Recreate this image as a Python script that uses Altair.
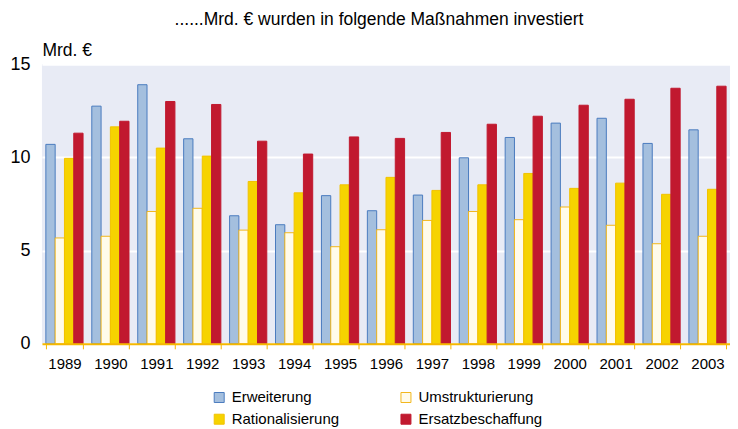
import altair as alt
import pandas as pd

years = ["1989", "1990", "1991", "1992", "1993", "1994", "1995", "1996",
         "1997", "1998", "1999", "2000", "2001", "2002", "2003"]
series = ["Erweiterung", "Umstrukturierung", "Rationalisierung", "Ersatzbeschaffung"]
legend_order = ["Erweiterung", "Rationalisierung", "Umstrukturierung", "Ersatzbeschaffung"]
erweiterung = [10.7, 12.75, 13.9, 11.0, 6.87, 6.39, 7.95, 7.14, 7.98, 9.98, 11.07, 11.84, 12.1, 10.75, 11.48]
umstrukturierung = [5.68, 5.77, 7.1, 7.27, 6.1, 5.96, 5.21, 6.12, 6.62, 7.1, 6.66, 7.34, 6.36, 5.37, 5.77]
rationalisierung = [9.95, 11.64, 10.5, 10.07, 8.71, 8.1, 8.53, 8.93, 8.23, 8.53, 9.14, 8.34, 8.62, 8.02, 8.29]
ersatz = [11.3, 11.94, 13.0, 12.84, 10.87, 10.18, 11.1, 11.02, 11.34, 11.78, 12.21, 12.8, 13.12, 13.71, 13.82]

fills = ["#A4BFDE", "#FFFBEA", "#F6D300", "#C1192F"]
strokes = ["#4A7BBF", "#F2B71B", "#F2C200", "#C1192F"]

rows = []
for name, vals in zip(series, [erweiterung, umstrukturierung, rationalisierung, ersatz]):
    for y, v in zip(years, vals):
        rows.append({"year": y, "series": name, "value": v})
df = pd.DataFrame(rows)

FONT = "Liberation Sans"

legend_kw = dict(title=None, orient="none", legendX=170, legendY=326,
                 columns=2, columnPadding=59, rowPadding=6, values=legend_order,
                 symbolType="square", symbolSize=100, labelFontSize=15,
                 labelOffset=5, symbolStrokeWidth=1, labelColor="#000000")

chart = alt.Chart(df).mark_bar(strokeWidth=1).encode(
    x=alt.X("year:N", sort=years,
            scale=alt.Scale(paddingInner=0.19, paddingOuter=0.085),
            axis=alt.Axis(title=None, labelAngle=0, labelFontSize=15, labelPadding=8,
                          domainColor="#F5B800", domainWidth=2, tickColor="#F5B800",
                          tickBand="extent", tickSize=5, grid=False, zindex=1,
                          labelColor="#000000")),
    xOffset=alt.XOffset("series:N", sort=series, scale=alt.Scale(paddingInner=0, paddingOuter=0)),
    y=alt.Y("value:Q", scale=alt.Scale(domain=[0, 15], nice=False),
            axis=alt.Axis(values=[0, 5, 10, 15], grid=True, gridColor="#FFFFFF", gridWidth=2,
                          domain=False, ticks=False, labelFontSize=18, labelPadding=12,
                          labelColor="#000000",
                          title="Mrd. €", titleAngle=0, titleAlign="left", titleX=0, titleY=-5,
                          titleBaseline="bottom", titleFontSize=17.5, titleFontWeight="normal",
                          titleColor="#000000")),
    fill=alt.Fill("series:N", sort=series, scale=alt.Scale(domain=series, range=fills),
                  legend=alt.Legend(**legend_kw)),
    stroke=alt.Stroke("series:N", sort=series, scale=alt.Scale(domain=series, range=strokes),
                      legend=alt.Legend(**legend_kw)),
).properties(
    width=689, height=280,
    title=alt.Title("......Mrd. € wurden in folgende Maßnahmen investiert", fontSize=17.5,
                    fontWeight="normal", anchor="middle", dx=-7, offset=13, color="#000000"),
    padding={"left": 1, "top": 2, "right": 0, "bottom": 0},
).configure(font=FONT).configure_view(fill="#E8EBF5", stroke=None)

chart.save("out.html", embed_options={"renderer": "svg", "actions": False})
